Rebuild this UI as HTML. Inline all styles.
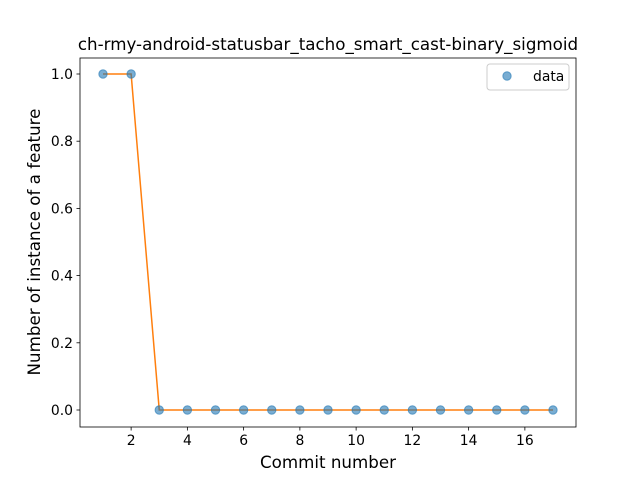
<!DOCTYPE html>
<html><head><meta charset="utf-8"><style>
body{margin:0;background:#fff;font-family:"Liberation Sans","DejaVu Sans",sans-serif;}
svg text{font-family:"DejaVu Sans","Liberation Sans",sans-serif;}
</style></head><body>
<svg id="chart" width="640" height="480" xmlns="http://www.w3.org/2000/svg">
<rect width="640" height="480" fill="#fff"/>
<g id="plot"></g>
</svg>
<script>
const xValues=[1,2,3,4,5,6,7,8,9,10,11,12,13,14,15,16,17];
const yValues=[1,1,0,0,0,0,0,0,0,0,0,0,0,0,0,0,0];
const xTicks=[2,4,6,8,10,12,14,16];
const yTicks=[0.0,0.2,0.4,0.6,0.8,1.0];
const L=80,R=576,T=58,B=427;
const xs=v=>103+(v-1)*(553-103)/16;
const ys=v=>410-v*(410-74);
const NS="http://www.w3.org/2000/svg";
const g=document.getElementById('plot');
function mk(tag,attrs,txt){const e=document.createElementNS(NS,tag);for(const k in attrs)e.setAttribute(k,attrs[k]);if(txt!==undefined)e.textContent=txt;g.appendChild(e);return e;}
let d=xValues.map((x,i)=>(i?'L':'M')+xs(x)+','+ys(yValues[i])).join(' ');
let ln=mk('path',{d:d,fill:'none',stroke:'#ff7f0e','stroke-width':1.5});


xValues.forEach((x,i)=>{
 const c=mk('circle',{cx:xs(x),cy:ys(yValues[i]),r:4.2,fill:'#1f77b4','fill-opacity':0.6,stroke:'#1f77b4','stroke-opacity':0.6});
 
 
});
const fr=mk('rect',{x:L,y:T,width:R-L,height:B-T,fill:'none',stroke:'#000','stroke-width':0.8});


xTicks.forEach(t=>{
 mk('line',{x1:xs(t),x2:xs(t),y1:B,y2:B+3.5,stroke:'#000','stroke-width':0.8});
 const tx=mk('text',{x:xs(t),y:B+18,'text-anchor':'middle','font-size':13.9,fill:'#000'},String(t));
 
 
});
yTicks.forEach(t=>{
 mk('line',{x1:L-3.5,x2:L,y1:ys(t),y2:ys(t),stroke:'#000','stroke-width':0.8});
 const tx=mk('text',{x:L-7,y:ys(t)+5,'text-anchor':'end','font-size':13.9,fill:'#000'},t.toFixed(1));
 
 
});
const ti=mk('text',{x:328,y:50,'text-anchor':'middle','font-size':16.7},'ch-rmy-android-statusbar_tacho_smart_cast-binary_sigmoid');


const xl=mk('text',{x:328,y:468,'text-anchor':'middle','font-size':16.7},'Commit number');


const yl=mk('text',{x:0,y:0,'text-anchor':'middle','font-size':16.7,transform:'translate(40,242) rotate(-90)'},'Number of instance of a feature');


const lg=mk('rect',{x:487,y:64,width:82,height:26,rx:3,fill:'#fff',stroke:'#ccc','stroke-width':1});


mk('circle',{cx:507,cy:76,r:4.2,fill:'#1f77b4','fill-opacity':0.6,stroke:'#1f77b4','stroke-opacity':0.6});
const lt=mk('text',{x:533,y:81,'font-size':13.9},'data');


</script>
</body></html>
